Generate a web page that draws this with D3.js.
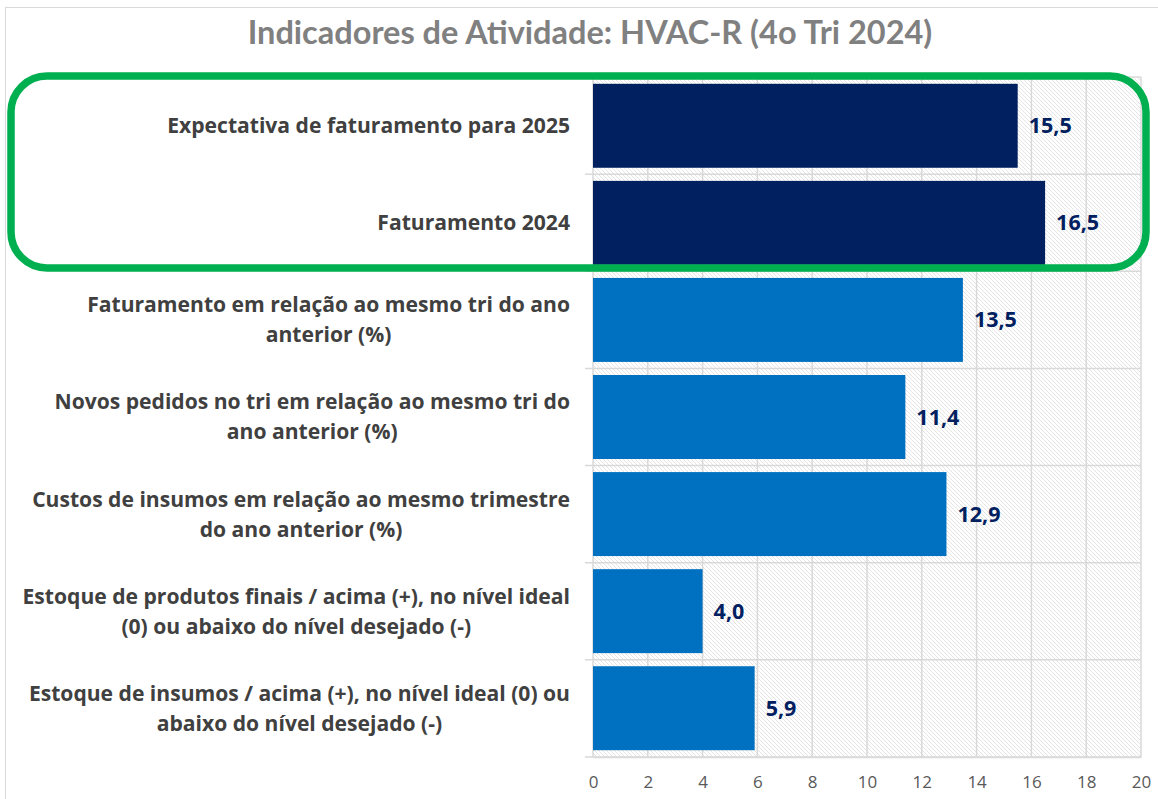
<!DOCTYPE html>
<html><head><meta charset="utf-8">
<script src="https://cdn.jsdelivr.net/npm/d3@7"></script>
<style>body{margin:0;background:#fff;} svg{display:block;}</style>
</head><body>
<svg id="chart" width="1158" height="799"></svg>
<script>
const title = "Indicadores de Atividade: HVAC-R (4o Tri 2024)";
const categories = [
  ["Expectativa de faturamento para 2025"],
  ["Faturamento 2024"],
  ["Faturamento em relação ao mesmo tri do ano", "anterior (%)"],
  ["Novos pedidos no tri em relação ao mesmo tri do", "ano anterior (%)"],
  ["Custos de insumos em relação ao mesmo trimestre", "do ano anterior (%)"],
  ["Estoque de produtos finais / acima (+), no nível ideal", "(0) ou abaixo do nível desejado (-)"],
  ["Estoque de insumos / acima (+), no nível ideal (0) ou", "abaixo do nível desejado (-)"]
];
const values = [15.5, 16.5, 13.5, 11.4, 12.9, 4.0, 5.9];
const highlighted = [true, true, false, false, false, false, false];
const xTicks = [0, 2, 4, 6, 8, 10, 12, 14, 16, 18, 20];

(function () {
const svg = d3.select("#chart");
const pLeft = 593, pRight = 1141, pTop = 77, pBottom = 757;
const font = "'Open Sans', sans-serif";
const titleFont = "Lato, sans-serif";

const x = d3.scaleLinear().domain([0, 20]).range([pLeft, pRight]);
const y = d3.scaleBand().domain(d3.range(categories.length)).range([pTop, pBottom]).paddingInner(0.135).paddingOuter(0.07);
const yGrid = d3.scaleBand().domain(d3.range(categories.length)).range([pTop, pBottom]);

svg.append("rect").attr("x", 5.5).attr("y", 7.5).attr("width", 1160).attr("height", 800)
  .attr("fill", "#fff").attr("stroke", "#d9d9d9");

const defs = svg.append("defs");
const pat = defs.append("pattern").attr("id", "hatch").attr("patternUnits", "userSpaceOnUse")
  .attr("width", 4).attr("height", 4);
pat.append("rect").attr("width", 4).attr("height", 4).attr("fill", "#fff");
pat.append("path").attr("d", "M-1,-1 L5,5 M-1,3 L1,5 M3,-1 L5,1").attr("stroke", "#e4e4e4").attr("stroke-width", 1);

svg.append("rect").attr("x", pLeft).attr("y", pTop).attr("width", pRight - pLeft).attr("height", pBottom - pTop)
  .attr("fill", "url(#hatch)");

svg.append("g").selectAll("line").data(xTicks).join("line")
  .attr("x1", d => x(d)).attr("x2", d => x(d)).attr("y1", pTop).attr("y2", pBottom)
  .attr("stroke", "#d9d9d9").attr("stroke-width", 1.5);
svg.append("g").selectAll("line").data(d3.range(categories.length + 1)).join("line")
  .attr("x1", pLeft - 8).attr("x2", pRight)
  .attr("y1", d => pTop + d * yGrid.step()).attr("y2", d => pTop + d * yGrid.step())
  .attr("stroke", "#d9d9d9").attr("stroke-width", 1.5);

svg.append("g").selectAll("rect").data(values).join("rect")
  .attr("x", x(0)).attr("y", (d, i) => y(i)).attr("width", d => x(d) - x(0)).attr("height", y.bandwidth())
  .attr("fill", (d, i) => highlighted[i] ? "#002060" : "#0070c0");

svg.append("g").selectAll("text").data(values).join("text")
  .attr("x", d => x(d) + 11).attr("y", (d, i) => y(i) + y.bandwidth() / 2)
  .attr("dy", "0.35em")
  .attr("font-family", font).attr("font-weight", "bold").attr("font-size", 21.5)
  .attr("fill", "#002060")
  .text(d => d.toFixed(1).replace(".", ","));

const labelRight = 570;
const lh = 30;
categories.forEach((lines, i) => {
  const g = svg.append("g");
  const cy = yGrid(i) + yGrid.bandwidth() / 2;
  const texts = lines.map((ln, j) => g.append("text")
    .attr("y", cy + (j - (lines.length - 1) / 2) * lh)
    .attr("dy", "0.35em")
    .attr("text-anchor", "middle")
    .attr("font-family", font).attr("font-weight", "bold").attr("font-size", 21.1)
    .attr("fill", "#404040").text(ln));
  const maxW = d3.max(texts, t => t.node().getComputedTextLength());
  texts.forEach(t => t.attr("x", labelRight - maxW / 2));
});

const axis = svg.append("g").attr("transform", `translate(0,${pBottom})`)
  .call(d3.axisBottom(x).tickValues(xTicks).tickSize(0).tickPadding(19));
axis.select(".domain").attr("stroke", "#d9d9d9").attr("stroke-width", 1.5);
axis.selectAll("text").attr("font-family", font).attr("font-size", 17).attr("fill", "#595959");

svg.append("text").attr("x", 590).attr("y", 44).attr("text-anchor", "middle")
  .attr("font-family", titleFont).attr("font-weight", "bold").attr("font-size", 32.5)
  .attr("fill", "#808080").text(title);

svg.append("rect").attr("x", 11).attr("y", 76).attr("width", 1135).attr("height", 192)
  .attr("rx", 36).attr("ry", 36).attr("fill", "none")
  .attr("stroke", "#00b050").attr("stroke-width", 7.5);
})();
</script>
</body></html>
